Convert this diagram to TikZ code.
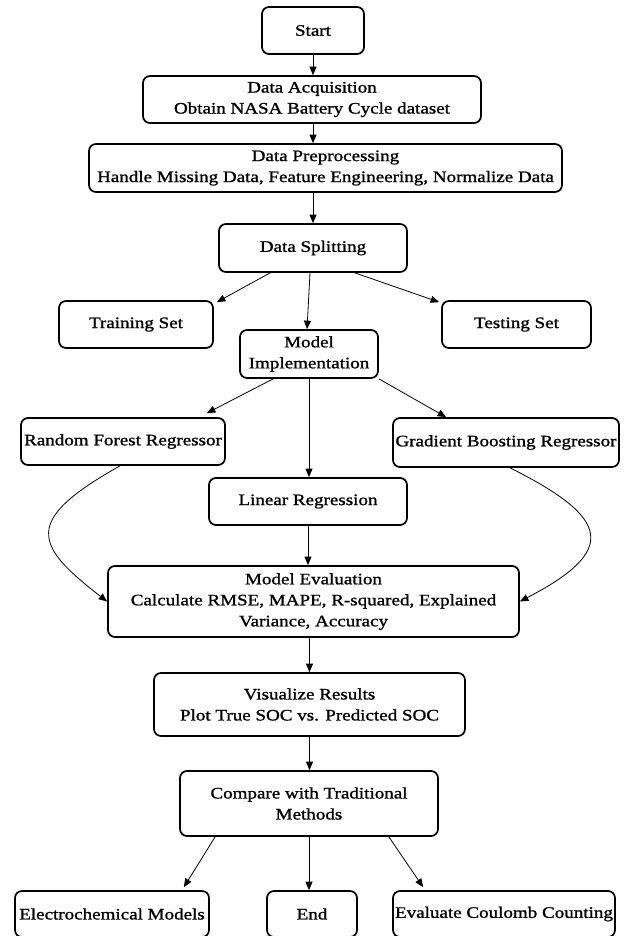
\documentclass[tikz,border=0pt]{standalone}
\usepackage{fontspec}
\setmainfont{Liberation Serif}[FakeStretch=1.19,FakeBold=1.2]
\usetikzlibrary{arrows.meta}
\begin{document}
\begin{tikzpicture}[x=1pt,y=-1pt,
  box/.style={draw, line width=1.7pt, rounded corners=7pt, inner sep=0pt, align=center,
    font=\fontsize{16}{21}\selectfont},
  arr/.style={line width=0.8pt, -{Triangle[length=8.5pt,width=7pt]}}]
\useasboundingbox (0,0) rectangle (627,936);
\node[box, minimum width=102pt, minimum height=47pt] (start) at (313,30.5) {Start};
\node[box, minimum width=338pt, minimum height=47pt] (acq) at (312,99.5) {Data Acquisition\\Obtain NASA Battery Cycle dataset};
\node[box, minimum width=473pt, minimum height=48pt] (pre) at (325.5,168) {Data Preprocessing\\Handle Missing Data, Feature Engineering, Normalize Data};
\node[box, minimum width=188pt, minimum height=48pt] (split) at (313,248) {Data Splitting};
\node[box, minimum width=154pt, minimum height=47pt] (train) at (136,324.5) {Training Set};
\node[box, minimum width=149pt, minimum height=47pt] (test) at (516.5,324.5) {Testing Set};
\node[box, minimum width=138pt, minimum height=48pt] (impl) at (309,354) {Model\\Implementation};
\node[box, minimum width=204pt, minimum height=47pt] (rf) at (123,441.5) {Random Forest Regressor};
\node[box, minimum width=226pt, minimum height=49pt] (gb) at (506,442.5) {Gradient Boosting Regressor};
\node[box, minimum width=198pt, minimum height=47pt] (lin) at (308,501.5) {Linear Regression};
\node[box, minimum width=411pt, minimum height=71pt] (eval) at (313.5,601.5) {Model Evaluation\\Calculate RMSE, MAPE, R-squared, Explained\\Variance, Accuracy};
\node[box, minimum width=311pt, minimum height=63pt] (vis) at (309.5,704.5) {Visualize Results\\Plot True SOC vs. Predicted SOC};
\node[box, minimum width=258pt, minimum height=65pt] (cmp) at (309,803.5) {Compare with Traditional\\Methods};
\node[box, minimum width=194pt, minimum height=46pt] (elec) at (112,914) {Electrochemical Models};
\node[box, minimum width=90pt, minimum height=46pt] (end) at (312,914) {End};
\node[box, minimum width=222pt, minimum height=46pt] (coul) at (504,914) {Evaluate Coulomb Counting};

\draw[arr] (start.south) -- (acq.north -| start.south);
\draw[arr] (acq.south -| start.south) -- (pre.north -| start.south);
\draw[arr] (pre.south -| split.north) -- (split.north);
\draw[arr] ([xshift=52pt]split.south west) -- ([xshift=3pt,yshift=-2pt]train.north east);
\draw[arr] ([xshift=-3pt]split.south) -- ([xshift=-2pt]impl.north);
\draw[arr] ([xshift=-53pt]split.south east) -- ([xshift=-2pt,yshift=-2pt]test.north west);
\draw[arr] ([xshift=34pt]impl.south west) -- ([xshift=-19pt,yshift=4pt]rf.north east);
\draw[arr] (impl.south) -- (impl.south |- lin.north);
\draw[arr] (impl.south east) -- ([xshift=54pt]gb.north west);
\draw[arr] ([xshift=-3pt]rf.south) .. controls +(-98,55) and +(-73,-56.5) .. (eval.west);
\draw[arr] ([xshift=4pt]gb.south) .. controls +(100,50) and +(99,-51.5) .. (eval.east);
\draw[arr] (lin.south) -- (lin.south |- eval.north);
\draw[arr] (vis.north |- eval.south) -- (vis.north);
\draw[arr] (vis.south) -- (vis.south |- cmp.north);
\draw[arr] ([xshift=36pt]cmp.south west) -- ([xshift=-26pt,yshift=3pt]elec.north east);
\draw[arr] (cmp.south) -- (cmp.south |- end.north);
\draw[arr] ([xshift=-50pt]cmp.south east) -- ([xshift=31pt,yshift=3pt]coul.north west);
\end{tikzpicture}
\end{document}
